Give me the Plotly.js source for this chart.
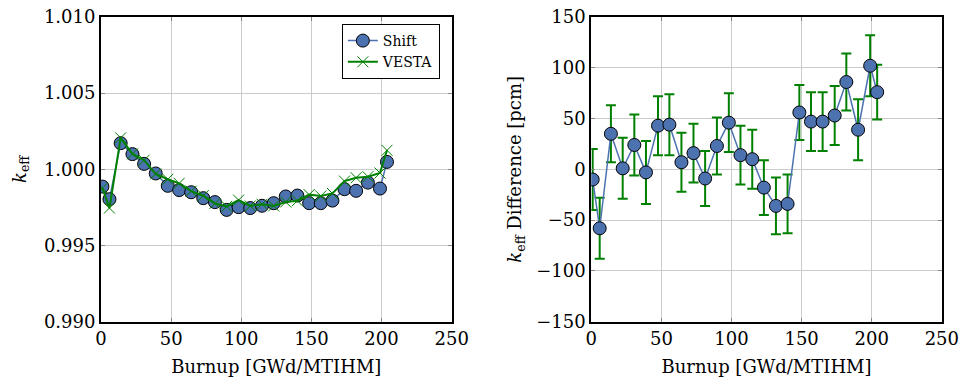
<!DOCTYPE html>
<html>
<head>
<meta charset="utf-8">
<script src="https://cdn.plot.ly/plotly-3.0.1.min.js"></script>
<style>html,body{margin:0;padding:0;background:#fff}#chart{width:963px;height:381px}</style>
</head>
<body>
<div id="chart"></div>
<script>
// Burnup points [GWd/MTIHM]
const burnup = [1, 6, 14, 22.4, 30.7, 39, 47.6, 55.7, 64.3, 72.9, 81.2, 89.6, 98.1,
  106.4, 114.8, 123.1, 131.7, 140, 148.4, 156.7, 165, 173.6, 181.9, 190.3, 198.9, 203.9];
// k_eff, Shift
const keffShift = [0.99887, 0.99804, 1.00172, 1.00100, 1.00036, 0.99973, 0.99892, 0.99864,
  0.99850, 0.99811, 0.99785, 0.99734, 0.99752, 0.99746, 0.99761, 0.99778, 0.99822, 0.99828,
  0.99778, 0.99778, 0.99795, 0.99870, 0.99859, 0.99913, 0.99874, 1.00049];
// k_eff, VESTA
const keffVesta = [0.99877, 0.99746, 1.00207, 1.00101, 1.00060, 0.99970, 0.99935, 0.99908,
  0.99857, 0.99827, 0.99776, 0.99757, 0.99798, 0.99760, 0.99771, 0.99760, 0.99786, 0.99794,
  0.99834, 0.99825, 0.99842, 0.99923, 0.99945, 0.99952, 0.99976, 1.00125];
// k_eff difference [pcm]
const diffPcm = [-10, -58, 35, 1, 24, -3, 43, 44, 7, 16, -9, 23, 46, 14, 10, -18, -36, -34,
  56, 47, 47, 53, 86, 39, 102, 76];
const diffErr = [30, 30, 28, 30, 30, 31, 29, 30, 29, 29, 27, 28, 29, 29, 29, 27, 28, 29,
  27, 29, 29, 29, 28, 30, 30, 27];

const blue = '#4C72B0', green = '#008000';
const font = {family: 'DejaVu Serif', size: 18, color: '#000'};
const titleFont = {family: 'DejaVu Serif', size: 18, color: '#000'};

const traces = [
  {x: burnup, y: keffShift, type: 'scatter', mode: 'lines+markers', name: 'Shift',
   line: {color: blue, width: 1.5},
   marker: {symbol: 'circle', size: 13, color: blue, line: {color: '#000', width: 1}},
   xaxis: 'x', yaxis: 'y'},
  {x: burnup, y: keffVesta, type: 'scatter', mode: 'lines+markers', name: 'VESTA',
   line: {color: green, width: 2},
   marker: {symbol: 'x-thin', size: 11, color: green, line: {color: green, width: 1}},
   xaxis: 'x', yaxis: 'y'},
  {x: burnup, y: diffPcm, type: 'scatter', mode: 'lines+markers', name: 'diff', showlegend: false,
   line: {color: blue, width: 1.5},
   marker: {symbol: 'circle', size: 13, color: blue, line: {color: '#000', width: 1}},
   error_y: {type: 'data', array: diffErr, visible: true, color: green, thickness: 2, width: 5},
   xaxis: 'x2', yaxis: 'y2'}
];

const axCommon = {
  showline: true, linecolor: '#000', linewidth: 2, mirror: 'ticks',
  showgrid: true, gridcolor: '#cbcbcb', gridwidth: 1, zeroline: false,
  ticks: 'inside', ticklen: 4, tickcolor: '#888', tickwidth: 1,
  tickfont: font
};

const layout = {
  width: 963, height: 381,
  margin: {l: 0, r: 0, t: 0, b: 0},
  paper_bgcolor: '#fff', plot_bgcolor: '#fff',
  font: font,
  showlegend: true,
  legend: {x: 0.355, y: 0.937, xanchor: 'left', yanchor: 'top',
    bordercolor: '#000', borderwidth: 1, bgcolor: '#fff',
    font: {family: 'DejaVu Serif', size: 14, color: '#000'},
    tracegroupgap: 0, itemwidth: 30},
  xaxis: Object.assign({}, axCommon, {domain: [0.1049, 0.469], range: [0, 250], dtick: 50,
    anchor: 'y', title: {text: 'Burnup [GWd/MTIHM]', font: titleFont, standoff: 12}}),
  yaxis: Object.assign({}, axCommon, {domain: [0.1556, 0.9554], range: [0.990, 1.010], dtick: 0.005,
    tickformat: '.3f', anchor: 'x',
    title: {text: '<i>k</i><sub>eff</sub>', font: titleFont, standoff: 13}}),
  xaxis2: Object.assign({}, axCommon, {domain: [0.614, 0.978], range: [0, 250], dtick: 50,
    anchor: 'y2', title: {text: 'Burnup [GWd/MTIHM]', font: titleFont, standoff: 12}}),
  yaxis2: Object.assign({}, axCommon, {domain: [0.1556, 0.9554], range: [-150, 150], dtick: 50,
    anchor: 'x2',
    title: {text: '<i>k</i><sub>eff</sub> Difference [pcm]', font: titleFont, standoff: 10}})
};

Plotly.newPlot('chart', traces, layout, {displayModeBar: false, staticPlot: true});
</script>
</body>
</html>
